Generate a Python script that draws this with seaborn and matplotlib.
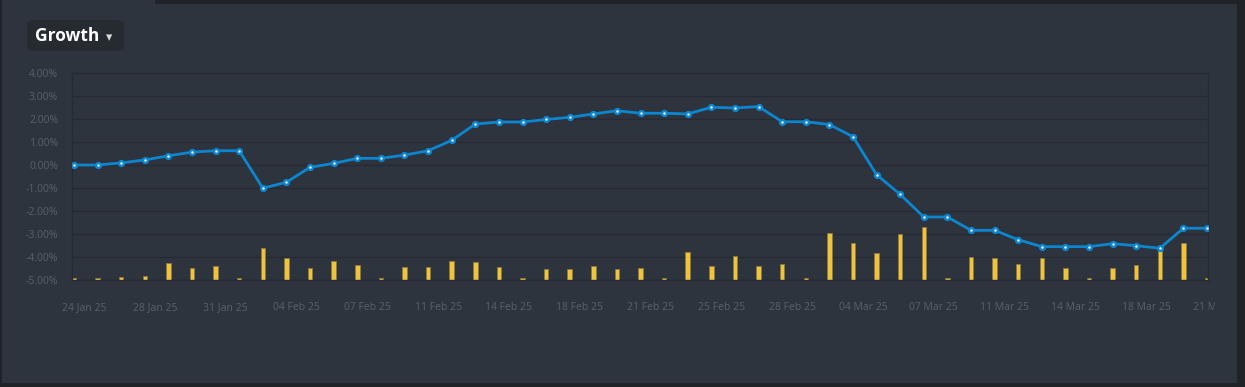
import numpy as np
import pandas as pd
import matplotlib
matplotlib.use("Agg")
import matplotlib.pyplot as plt
import matplotlib.transforms as mtransforms
from matplotlib.patches import FancyBboxPatch, Rectangle
import seaborn as sns

# trading days (Sun-Fri), 24 Jan 25 .. 21 Mar 25
dates = pd.date_range("2025-01-24", "2025-03-21", freq="D")
dates = dates[dates.dayofweek != 5]

growth = [0.00, 0.00, 0.09, 0.22, 0.40, 0.56, 0.62, 0.62, -1.01, -0.75,
          -0.10, 0.07, 0.29, 0.29, 0.43, 0.62, 1.07, 1.78, 1.87, 1.87,
          1.98, 2.07, 2.22, 2.36, 2.25, 2.25, 2.22, 2.51, 2.48, 2.54,
          1.88, 1.88, 1.76, 1.23, -0.42, -1.28, -2.26, -2.26, -2.84, -2.84,
          -3.25, -3.55, -3.55, -3.55, -3.42, -3.51, -3.62, -2.75, -2.75]

activity = [2, 2, 3, 4.3, 16.7, 12, 14.3, 2, 31.7, 21.7,
            12, 19, 15, 2, 13.3, 12.7, 19, 17.7, 13, 2,
            11, 10.7, 14, 10.7, 11.7, 2, 28, 14, 23.7, 13.7,
            16.3, 2, 47, 37.3, 27, 45.7, 53, 2, 23, 22.3,
            16, 22, 11.7, 2, 11.7, 15, 30, 37, 2]

tick_every = 3

bg = "#2e343e"
dark = "#1f2328"
grid_c = "#262b33"
tick_c = "#5a606a"
blue = "#0b86cf"
yellow = "#f0c33e"

sns.set_theme(style="dark")
plt.rcParams["font.family"] = ["Open Sans", "DejaVu Sans"]

W, H = 1245, 387
fig = plt.figure(figsize=(W / 100, H / 100), dpi=100, facecolor=bg)

# panel edges
for (x0, y0, w, h) in [(155, H - 4, W - 155, 4), (1237, 0, 8, H), (0, 0, W, 4), (0, 0, 2, H)]:
    fig.add_artist(Rectangle((x0 / W, y0 / H), w / W, h / H, transform=fig.transFigure,
                             facecolor=dark, edgecolor="none", zorder=0))

# "Growth" button
fig.add_artist(FancyBboxPatch((27 / W, 1 - 51 / H), 97 / W, 31 / H,
                              boxstyle="round,pad=0,rounding_size=0.008",
                              transform=fig.transFigure, facecolor="#262a31",
                              edgecolor="none", zorder=1))
fig.text(35 / W, 1 - 36 / H, "Growth", color="white", fontsize=12.5,
         fontweight="bold", va="center", ha="left", zorder=2)
fig.text(109 / W, 1 - 38 / H, "▾", color="#d8d8d8", fontsize=9,
         family=["DejaVu Sans"], va="center", ha="center", zorder=2)

ax = fig.add_axes([72 / W, 107 / H, 1136 / W, 207 / H])
ax.set_facecolor(bg)

n = len(dates)
x = np.arange(n)

sns.barplot(x=x, y=activity, ax=ax, color=yellow, saturation=1, width=0.19,
            edgecolor="#8c7a3e", linewidth=0.6)
ax.set_ylim(0, 207)
ax.set_yticks(np.arange(0, 208, 23))
ax.set_yticklabels([])
ax.grid(axis="y", color=grid_c, linewidth=1)
ax.grid(axis="x", visible=False)
for side in ax.spines:
    ax.spines[side].set_color(grid_c)
    ax.spines[side].set_linewidth(1)
ax.tick_params(axis="y", length=0)

axl = ax.twinx()
sns.lineplot(x=x, y=growth, ax=axl, color=blue, linewidth=2, marker="o",
             markersize=3.5, markerfacecolor="white", markeredgecolor=blue,
             markeredgewidth=1.7)
axl.set_ylim(-5, 4)
axl.yaxis.tick_left()
axl.set_yticks(range(-5, 5))
axl.set_yticklabels([f"{v:.2f}%" for v in range(-5, 5)])
axl.tick_params(axis="y", length=0, pad=10, labelsize=7.5, labelcolor=tick_c)
axl.grid(False)
for side in axl.spines:
    axl.spines[side].set_visible(False)
axl.set_xlabel("")
axl.set_ylabel("")

ax.set_xlim(-0.085, n - 1 + 0.04)
ticks = list(range(0, n, tick_every))
ax.set_xticks(ticks)
ax.set_xticklabels([d.strftime("%d %b %y") for d in dates[ticks]])
ax.tick_params(axis="x", length=0, pad=16, labelsize=7.5, labelcolor=tick_c)
ax.set_xlabel("")
ax.set_ylabel("")

offset = mtransforms.ScaledTranslation(0.10, 0, fig.dpi_scale_trans)
clip = mtransforms.TransformedBbox(mtransforms.Bbox([[0, 0], [1215, H]]),
                                   mtransforms.IdentityTransform())
for lbl in ax.get_xticklabels():
    lbl.set_transform(lbl.get_transform() + offset)
    lbl.set_clip_box(clip)
    lbl.set_clip_on(True)

fig.savefig("out.png", dpi=100, facecolor=fig.get_facecolor())
